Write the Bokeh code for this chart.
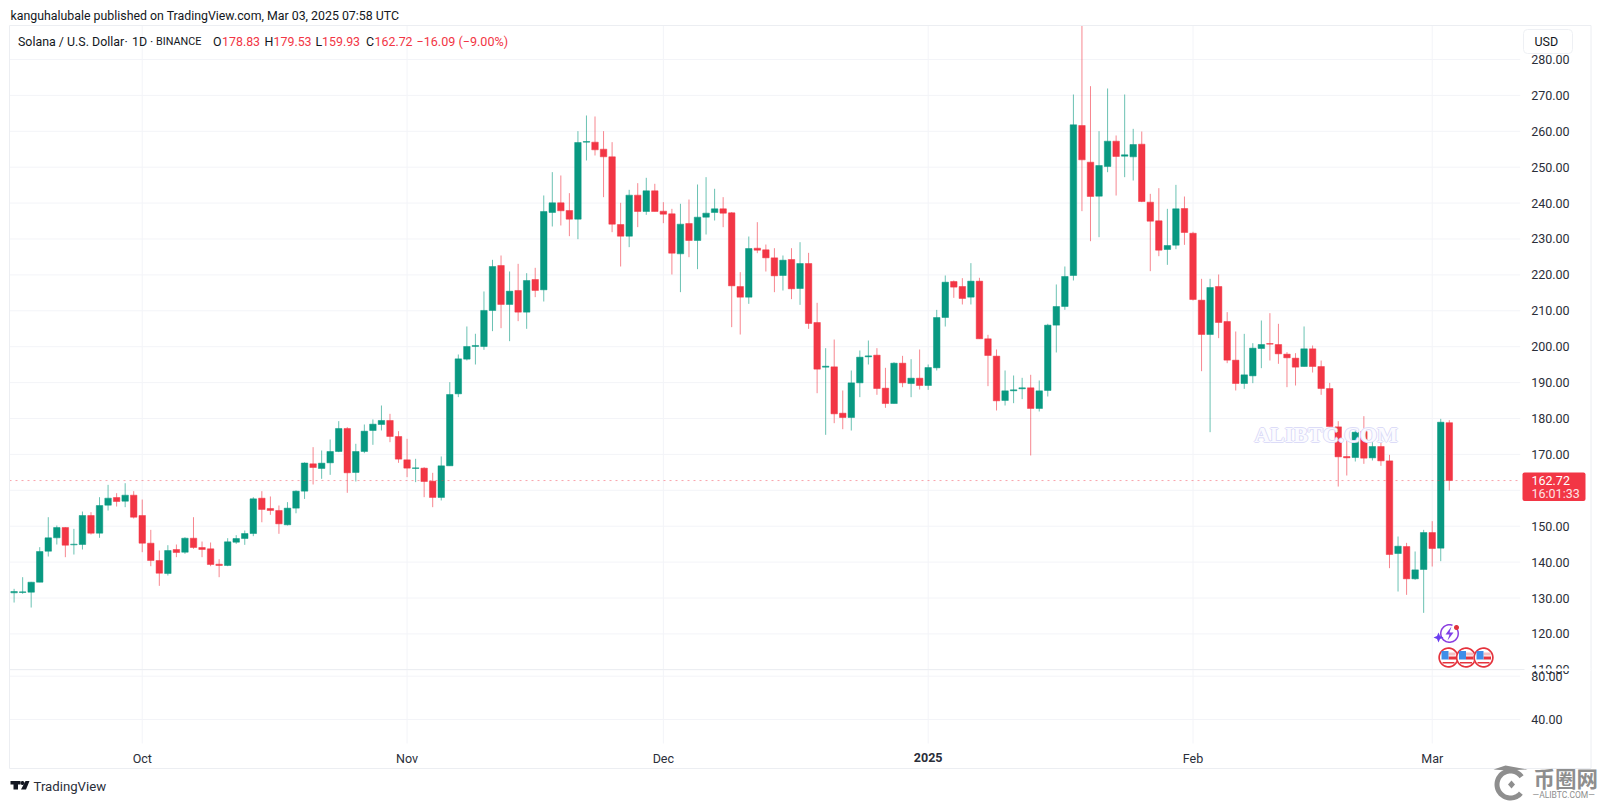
import numpy as np
import pandas as pd

from bokeh.embed import file_html
from bokeh.models import (BoxAnnotation, ColumnDataSource, FixedTicker, Label, LinearAxis, PolyAnnotation,
                          PrintfTickFormatter, Range1d)
from bokeh.plotting import figure
from bokeh.resources import INLINE

# daily candles, Sep 16 2024 to Mar 3 2025
dates = pd.date_range("2024-09-16", "2025-03-03", freq="D")

opens = [131.44, 131.53, 131.62, 134.41, 143.04, 146.76, 149.63, 144.81, 144.9, 152.98,
         148.06, 155.86, 157.99, 156.97, 158.64, 152.98, 145.27, 140.44, 136.82, 143.51,
         142.76, 146.66, 144.06, 143.69, 139.42, 139.05, 145.55, 146.57, 147.96, 157.8,
         154.94, 154.38, 150.39, 155.03, 159.76, 167.38, 166.08, 167.65, 170.81, 177.22,
         164.96, 170.81, 176.66, 178.33, 179.45, 174.99, 168.49, 166.08, 166.17, 162.55,
         158.0, 166.82, 186.87, 196.53, 200.06, 200.05, 210.08, 222.62, 211.76, 215.66,
         209.62, 218.72, 215.84, 237.38, 240.08, 237.94, 235.53, 256.97, 256.97, 255.02,
         252.89, 234.04, 230.79, 242.21, 237.66, 243.42, 237.75, 237.01, 225.87, 234.32,
         229.58, 236.08, 237.38, 238.4, 237.28, 216.76, 213.79, 227.44, 226.98, 224.75,
         219.83, 224.29, 216.21, 223.17, 206.74, 194.29, 194.39, 181.48, 180.27, 189.93,
         197.17, 197.64, 188.45, 184.17, 195.41, 189.74, 191.23, 189.19, 194.11, 208.13,
         218.16, 216.77, 213.8, 218.26, 202.2, 197.37, 185.02, 187.71, 188.27, 188.55,
         182.79, 187.8, 206.0, 211.2, 219.83, 261.61, 251.4, 241.93, 250.19, 257.25,
         253.07, 252.88, 256.41, 240.26, 235.06, 227.07, 228.28, 238.49, 231.6, 212.96,
         203.4, 216.77, 207.02, 196.25, 189.75, 191.88, 199.5, 200.89, 200.61, 197.92,
         196.81, 194.48, 199.41, 194.48, 188.35, 177.67, 169.41, 169.13, 176.37, 169.04,
         172.2, 168.2, 142.39, 144.34, 135.34, 137.94, 148.24, 143.88, 178.83]
highs = [132.55, 135.8, 134.5, 144.16, 152.51, 150.19, 149.73, 149.26, 154.09, 153.91,
         158.08, 161.52, 159.2, 161.98, 159.76, 157.43, 148.98, 143.23, 144.71, 144.9,
         146.94, 152.51, 145.73, 145.46, 140.81, 146.66, 147.5, 148.8, 158.08, 159.76,
         158.28, 155.77, 156.7, 160.0, 167.8, 172.02, 171.09, 174.15, 179.26, 177.59,
         172.95, 178.33, 179.73, 183.62, 181.3, 176.47, 174.34, 168.77, 166.45, 164.87,
         169.42, 190.12, 197.83, 205.63, 203.6, 215.38, 224.2, 225.4, 220.95, 223.08,
         220.48, 221.97, 242.12, 248.62, 247.69, 242.77, 260.04, 264.4, 264.12, 260.04,
         256.97, 240.08, 243.7, 245.55, 247.04, 245.37, 240.26, 238.4, 239.8, 241.0,
         245.18, 247.22, 243.98, 241.65, 237.5, 220.76, 230.69, 234.68, 228.46, 227.44,
         225.4, 227.44, 229.11, 226.14, 212.22, 199.59, 202.0, 187.8, 193.37, 198.94,
         201.72, 199.59, 194.11, 195.69, 197.45, 196.52, 199.22, 195.04, 210.26, 219.83,
         218.44, 219.09, 223.27, 219.19, 203.31, 199.22, 193.37, 191.98, 191.33, 192.17,
         190.59, 206.37, 217.33, 222.34, 270.25, 289.4, 272.57, 260.03, 271.92, 258.83,
         270.25, 260.68, 259.94, 242.58, 244.16, 238.4, 245.08, 241.83, 232.0, 218.9,
         218.9, 220.11, 209.62, 204.23, 203.58, 200.98, 207.3, 209.34, 206.37, 198.48,
         198.2, 205.63, 200.33, 196.15, 189.93, 179.25, 174.33, 176.65, 180.65, 174.33,
         173.4, 169.88, 147.13, 145.36, 142.95, 148.98, 151.4, 179.9, 179.53]
lows = [128.74, 131.16, 127.35, 134.41, 141.56, 144.9, 141.37, 142.11, 143.51, 147.68,
        146.76, 154.37, 155.48, 155.3, 152.14, 142.76, 138.86, 133.39, 136.26, 141.37,
        142.3, 143.69, 141.37, 138.86, 135.8, 138.86, 145.08, 144.81, 147.22, 151.1,
        153.17, 147.88, 150.2, 153.6, 157.6, 161.62, 163.2, 164.31, 170.63, 159.3,
        162.45, 170.35, 172.67, 176.66, 173.41, 167.65, 163.66, 162.27, 158.09, 155.3,
        157.16, 166.82, 185.95, 196.16, 195.04, 199.13, 204.33, 205.16, 201.54, 207.11,
        204.98, 213.8, 212.59, 233.48, 233.76, 230.79, 229.95, 251.87, 253.26, 241.65,
        231.9, 222.34, 227.73, 233.3, 236.73, 237.66, 234.41, 220.11, 215.19, 224.94,
        221.6, 231.25, 235.15, 233.29, 205.44, 203.39, 211.94, 226.05, 220.94, 215.19,
        215.65, 213.24, 211.66, 204.97, 187.05, 175.45, 178.7, 177.02, 176.65, 185.94,
        195.04, 186.59, 182.97, 184.17, 188.72, 185.94, 188.07, 187.98, 193.37, 205.62,
        213.61, 211.76, 211.76, 202.2, 189.01, 182.23, 183.62, 184.27, 185.39, 169.7,
        181.95, 186.13, 198.39, 210.27, 218.44, 237.75, 229.39, 230.51, 248.61, 242.11,
        247.22, 246.29, 240.26, 221.04, 225.21, 222.8, 227.16, 228.37, 212.87, 193.18,
        176.19, 202.38, 195.41, 187.8, 188.26, 189.84, 194.02, 196.15, 195.23, 188.73,
        189.19, 194.48, 192.81, 186.59, 177.77, 161.05, 164.12, 168.02, 167.37, 168.3,
        166.81, 138.31, 131.81, 130.88, 135.06, 125.86, 138.77, 140.26, 159.93]
closes = [131.81, 131.71, 134.41, 142.95, 146.76, 149.63, 144.71, 144.99, 152.98, 148.06,
          155.76, 157.81, 156.88, 158.64, 152.51, 145.27, 140.44, 136.91, 143.23, 142.67,
          146.66, 144.06, 143.51, 139.33, 139.05, 145.64, 146.57, 147.96, 157.62, 154.66,
          154.38, 150.66, 155.03, 159.76, 167.6, 166.35, 167.56, 170.81, 177.22, 164.87,
          170.81, 176.47, 178.42, 179.45, 174.99, 168.68, 166.17, 166.26, 162.45, 158.0,
          166.82, 186.69, 196.62, 200.06, 200.34, 210.1, 222.34, 211.76, 215.47, 209.62,
          218.44, 215.66, 237.66, 240.08, 237.85, 235.53, 256.88, 257.16, 254.84, 252.89,
          234.13, 230.79, 242.21, 237.66, 243.42, 237.66, 236.92, 226.05, 234.13, 229.58,
          236.08, 237.2, 238.4, 237.19, 216.95, 213.79, 227.35, 226.89, 224.75, 219.74,
          224.1, 216.12, 223.17, 206.46, 193.74, 194.57, 181.3, 180.27, 189.93, 197.08,
          197.45, 188.35, 184.17, 195.41, 189.93, 191.23, 189.19, 194.2, 208.13, 217.97,
          216.59, 213.43, 218.26, 202.2, 197.55, 184.92, 187.71, 187.99, 188.55, 182.79,
          187.71, 206.0, 211.2, 219.56, 261.8, 252.05, 241.84, 250.47, 257.25, 252.98,
          253.44, 256.32, 240.44, 234.96, 226.89, 228.19, 238.4, 231.81, 213.15, 203.4,
          216.49, 206.74, 196.25, 189.75, 192.16, 199.59, 200.61, 200.7, 198.01, 196.9,
          194.3, 199.41, 194.48, 188.35, 177.77, 169.32, 169.04, 176.19, 168.95, 172.2,
          168.2, 142.11, 144.43, 135.34, 137.84, 148.24, 143.78, 178.97, 162.72]

price_ticks = [110, 120, 130, 140, 150, 160, 170, 180, 190, 200, 210, 220, 230, 240,
               250, 260, 270, 280]
lower_ticks = [40, 80]
month_starts = ["2024-10-01", "2024-11-01", "2024-12-01", "2025-01-01", "2025-02-01", "2025-03-01"]
month_labels = ["Oct", "Nov", "Dec", "", "Feb", "Mar"]

UP = "#089981"
DOWN = "#f23645"
GRID = "#f3f4f8"
BORDER = "#eceef2"
TEXT = "#131722"
AXIS_TEXT = "#2a2e39"
FONT = "Roboto"
DAY = 86400000


def to_ms(d):
    return (pd.Timestamp(d) - pd.Timestamp("1970-01-01")) / pd.Timedelta(milliseconds=1)


start = to_ms(dates[0])
month_ticks = [to_ms(d) for d in month_starts]

# the frame fills the canvas, the panes sit inside it
pane_left, pane_right = start - 0.538 * DAY, start + 176.3 * DAY
pane_top, pane_bottom = 289.47, 89.47

p = figure(width=1600, height=802, x_axis_type="datetime", y_axis_location="right",
           x_range=Range1d(start - 1.592 * DAY, start + 185.7 * DAY), y_range=Range1d(73.04, 296.43),
           toolbar_location=None, output_backend="svg",
           min_border_left=0, min_border_right=0, min_border_top=0, min_border_bottom=0)
p.extra_y_ranges = {"lower": Range1d(-36.7, 704.2)}
p.outline_line_color = None
p.grid.visible = False


def label(x, y, text, size="12.5px", color=TEXT, align="left", font=FONT, **kw):
    p.add_layout(Label(x=x, y=y, x_units="canvas", y_units="canvas", text=text, text_font=font,
                       text_font_size=size, text_color=color, text_align=align,
                       text_baseline="middle", **kw))


def box(x0, y0, x1, y1, fill=None, line=None, **kw):
    p.add_layout(BoxAnnotation(left=x0, right=x1, top=y0, bottom=y1,
                               left_units="canvas", right_units="canvas",
                               top_units="canvas", bottom_units="canvas",
                               fill_color=fill, fill_alpha=1 if fill else 0,
                               line_color=line, line_alpha=1 if line else 0, **kw))


def poly(xs, ys, fill):
    p.add_layout(PolyAnnotation(xs=xs, ys=ys, xs_units="canvas", ys_units="canvas",
                                fill_color=fill, fill_alpha=1, line_alpha=0))


def arc(cx, cy, r0, r1, a0, a1, fill):
    t = np.radians(np.linspace(a0, a1, 48))
    xs = np.r_[cx + r1 * np.cos(t), cx + r0 * np.cos(t[::-1])]
    ys = np.r_[cy - r1 * np.sin(t), cy - r0 * np.sin(t[::-1])]
    poly(xs.tolist(), ys.tolist(), fill)


# grid lines
p.segment(month_ticks, pane_bottom, month_ticks, pane_top, line_color=GRID, line_width=1)
p.segment(pane_left, price_ticks, pane_right, price_ticks, line_color=GRID, line_width=1)
p.segment(pane_left, lower_ticks, pane_right, lower_ticks, line_color=GRID, line_width=1,
          y_range_name="lower")

source = ColumnDataSource(data=dict(
    date=dates, open=opens, high=highs, low=lows, close=closes,
    body_top=np.maximum(opens, closes), body_bottom=np.minimum(opens, closes),
    color=[UP if c >= o else DOWN for o, c in zip(opens, closes)],
))
p.segment("date", "high", "date", "low", source=source, color="color", line_width=1, line_alpha=0.6)
p.vbar("date", 0.76 * DAY, "body_top", "body_bottom", source=source,
       fill_color="color", line_color="color", line_width=0.5)

# last price line
p.segment(pane_left, closes[-1], pane_right, closes[-1], line_color=DOWN, line_alpha=0.45,
          line_dash="dotted", line_width=1)

# axes sit at fixed places in the frame
main_axis = p.yaxis[0]
main_axis.fixed_location = pane_right
main_axis.ticker = FixedTicker(ticks=price_ticks)
lower_axis = LinearAxis(y_range_name="lower", fixed_location=pane_right,
                        ticker=FixedTicker(ticks=lower_ticks))
p.add_layout(lower_axis, "right")
p.xaxis.fixed_location = pane_bottom
p.xaxis.ticker = FixedTicker(ticks=month_ticks)
p.xaxis.major_label_overrides = dict(zip(month_ticks, month_labels))
p.xaxis.major_label_standoff = 7
for ax in [main_axis, lower_axis, p.xaxis[0]]:
    ax.axis_line_color = None
    ax.major_tick_line_color = None
    ax.minor_tick_line_color = None
    ax.major_tick_out = 0
    ax.major_label_text_font = FONT
    ax.major_label_text_font_size = "12.5px"
    ax.major_label_text_color = AXIS_TEXT
for ax in [main_axis, lower_axis]:
    ax.formatter = PrintfTickFormatter(format="%.2f")
    ax.major_label_standoff = 11

p.add_layout(Label(x=to_ms("2025-01-01"), x_units="data", y=757, y_units="canvas", text="2025",
                   text_font=FONT, text_font_size="12.5px", text_font_style="bold",
                   text_color=AXIS_TEXT, text_align="center", text_baseline="middle"))

# pane borders, the lower pane hides the foot of 110.00
box(9, 25, 1590.5, 669, line=BORDER)
box(9, 669, 1590.5, 768, line=BORDER)
box(1524, 668, 1590, 670.5, fill="white")

# header
label(10, 15, "kanguhalubale published on TradingView.com, Mar 03, 2025 07:58 UTC", size="12.35px")
label(17.5, 41, "Solana / U.S. Dollar", size="12.4px")
label(124, 41, "·", size="12.4px")
label(131.5, 41, "1D", size="12.4px")
label(149.5, 41, "·", size="12.4px")
label(155.5, 41, "BINANCE", size="10.8px")
for x, name, x2, value in [(212.5, "O", 221.5, "178.83"), (264, "H", 273, "179.53"),
                           (315, "L", 321.5, "159.93"), (365.5, "C", 374, "162.72")]:
    label(x, 41, name, size="12.4px")
    label(x2, 41, value, size="12.4px", color=DOWN)
label(416, 41, "−16.09 (−9.00%)", size="12.6px", color=DOWN)

box(1523, 29, 1572, 53, fill="white", line="#eef0f4", border_radius=4)
label(1534, 41, "USD")

# last price badge
box(1522, 472, 1585, 500.5, fill=DOWN, border_radius=2)
label(1531, 480, "162.72", color="white")
label(1531, 493, "16:01:33", color="#fde3e5")

# site stamp over the candles
for dx, dy in [(-1, 0), (1, 0), (0, -1), (0, 1)]:
    label(1325.5 + dx, 434 + dy, "ALIBTC.COM", size="22px", color="#dcdcf8", align="center",
          font="Liberation Serif", text_font_style="bold")
label(1325.5, 434, "ALIBTC.COM", size="22px", color="#fbfbff", align="center",
      font="Liberation Serif", text_font_style="bold")

# event icons
PURPLE = "#8b3fe0"
arc(1449, 633, 8, 9.5, 70, 400, PURPLE)
poly([1451, 1445, 1449, 1447, 1453, 1449], [626, 634, 634, 640, 632, 632], "#7e3fe8")
poly([1438, 1439.5, 1443, 1439.5, 1438, 1436.5, 1433, 1436.5],
     [632, 635.5, 637, 638.5, 642, 638.5, 637, 635.5], "#6a3df0")
arc(1456, 627, 0, 2.5, 0, 360, "#e0343f")
for cx in [1448, 1465.5, 1483]:
    arc(cx, 657, 0, 10, 0, 360, "white")
    arc(cx, 657, 8.5, 10.2, 0, 360, "#e5333d")
    box(cx, 652, cx + 7, 655, fill="#f5c0c3")
    box(cx, 656, cx + 7.5, 659, fill="#e5333d")
    box(cx - 7, 650.5, cx, 659, fill="#3f8ee8")
    box(cx - 6, 661.5, cx + 6, 663, fill="#e5333d")

# footer: TradingView mark
poly([10, 20, 20, 17.5, 17.5, 13, 13, 10], [780.5, 780.5, 784, 784, 789, 789, 784, 784], TEXT)
arc(22, 782.5, 0, 2, 0, 360, TEXT)
poly([25, 29, 25.5, 20.5], [780.5, 780.5, 789, 789], TEXT)
label(33, 786, "TradingView", size="13.2px", color=AXIS_TEXT)

# footer: 币圈网 mark
GREY = "#8e8e8e"
arc(1510, 784, 11, 16, 35, 320, GREY)
poly([1493, 1505, 1527, 1506], [769, 765, 769, 770], GREY)
poly([1511, 1514.5, 1511, 1507.5], [780, 784, 788, 784], GREY)
label(1533, 777, "币圈网", size="21.5px", color=GREY, font="Noto Sans CJK SC", text_font_style="bold")
label(1532, 794, "—ALIBTC.COM—", size="8.5px", color=GREY)

open("out.html", "w").write(file_html(p, INLINE))
